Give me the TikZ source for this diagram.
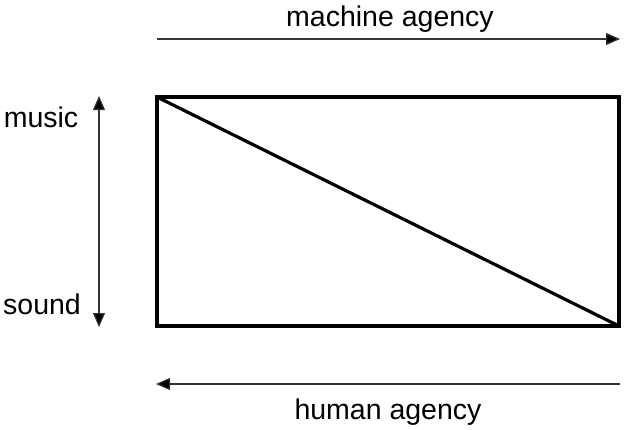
\documentclass[tikz,border=0pt]{standalone}
\usepackage{fontspec}
\setmainfont{Liberation Sans}
\usetikzlibrary{arrows.meta}
\begin{document}
\begin{tikzpicture}[x=1pt,y=-1pt,
  lbl/.style={font=\fontsize{28.5}{32}\selectfont, inner sep=0pt, anchor=base},
  tip/.tip={Triangle[length=14pt,width=12pt,fill=black]},
  arr/.style={line width=1.2pt, draw=black!80, -tip},
  box/.style={line width=3.2pt}]
\useasboundingbox (0,0) rectangle (624,429);
\coordinate (tl) at (157,97);
\coordinate (tr) at (619,97);
\coordinate (bl) at (157,326);
\coordinate (br) at (619,326);
\draw[box] (tl) rectangle (br);
\draw[box] (tl) -- (br);
\coordinate (ma1) at (157,39);
\coordinate (ma2) at (620,39);
\draw[arr] (ma1) -- (ma2);
\coordinate (ha1) at (620,384);
\coordinate (ha2) at (156,384);
\draw[arr] (ha1) -- (ha2);
\coordinate (v1) at (99,96);
\coordinate (v2) at (99,327);
\draw[arr,tip-tip] (v1) -- (v2);
\node[lbl] (mach) at (390,26) {machine agency};
\node[lbl] (hum) at (388,419) {human agency};
\node[lbl] (mus) at (41,127) {music};
\node[lbl] (snd) at (42,314) {sound};
\end{tikzpicture}
\end{document}
